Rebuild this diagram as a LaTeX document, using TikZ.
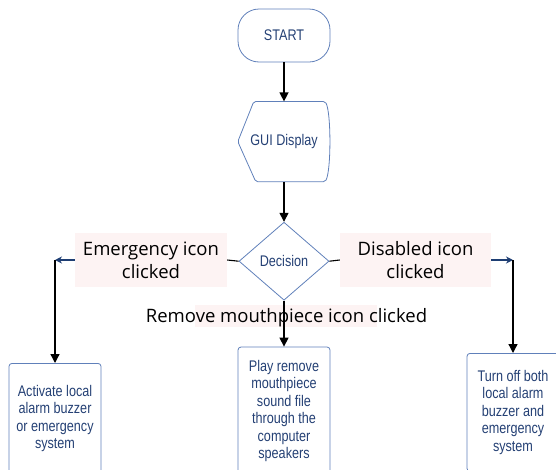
\documentclass[tikz,border=0pt]{standalone}
\usepackage{fontspec}
\newfontfamily\boxfont[FakeStretch=0.82]{Liberation Sans}
\newfontfamily\lblfont{Open Sans}
\usetikzlibrary{arrows.meta, positioning, shapes.geometric, calc}
\definecolor{boxline}{RGB}{96,128,186}
\definecolor{boxtext}{RGB}{36,64,116}
\definecolor{sidearrow}{RGB}{30,62,115}
\definecolor{lblpink}{RGB}{253,243,243}

\begin{document}
\begin{tikzpicture}[
  x=1pt, y=-1pt,
  node distance=39pt,
  term/.style={draw=boxline, line width=0.8pt, rounded corners=21pt,
               minimum width=92pt, minimum height=53pt, text=boxtext,
               font=\boxfont\fontsize{15.4}{17.5}\selectfont},
  dispbox/.style={minimum width=92pt, minimum height=80pt, text=boxtext,
                  font=\boxfont\fontsize{15.4}{17.5}\selectfont},
  shapeline/.style={draw=boxline, line width=0.8pt, rounded corners=2pt},
  decision/.style={diamond, draw=boxline, line width=0.8pt, inner sep=0pt,
                   minimum width=90pt, minimum height=78pt, text=boxtext,
                   font=\boxfont\fontsize{15.4}{17.5}\selectfont},
  procbox/.style={draw=boxline, line width=0.8pt, rounded corners=3pt,
                  minimum width=92pt, align=center, anchor=north, text=boxtext,
                  font=\boxfont\fontsize{15.4}{17.5}\selectfont},
  lbl/.style={fill=lblpink, align=center, inner sep=0pt, text=black,
              minimum width=152pt, minimum height=54pt,
              font=\lblfont\fontsize{18.5}{23}\selectfont},
  arr/.style={-{Triangle[width=9pt,length=9pt]}, line width=1.3pt},
  barr/.style={-{Stealth[width=7pt,length=7pt]}, sidearrow, line width=1.2pt},
  plain/.style={line width=1.1pt},
]
\useasboundingbox (0,0) rectangle (556,469);

% main column
\node[term] (start) at (284,35.5) {START};
\node[dispbox, below=39pt of start] (gui) {GUI Display};
\draw[shapeline] (gui.west) -- ([xshift=16pt]gui.north west)
  -- ([xshift=-5pt]gui.north east)
  .. controls ([xshift=1pt,yshift=-12pt]gui.north east) and ([xshift=1pt,yshift=12pt]gui.south east) .. ([xshift=-5pt]gui.south east)
  -- ([xshift=18pt]gui.south west) -- cycle;
\node[decision, below=40pt of gui] (dec) {Decision};

% branch labels
\node[lbl] (elabel) at (151,260) {Emergency icon\\clicked};
\node[lbl, minimum width=151pt] (dlabel) at (415.5,260) {Disabled icon\\clicked};
\fill[lblpink] (195,305) rectangle (377,327);
\node[inner sep=0pt, font=\lblfont\fontsize{18.5}{23}\selectfont] (mlabel) at (286.5,318) {Remove mouthpiece icon clicked};

% actions
\node[procbox, minimum height=110pt] (lbox) at (55,363) {Activate local\\alarm buzzer\\or emergency\\system};
\node[procbox, minimum height=128pt, below=46pt of dec] (cbox) {Play remove\\mouthpiece\\sound file\\through the\\computer\\speakers};
\node[procbox, minimum height=118pt] (rbox) at (513,353) {Turn off both\\local alarm\\buzzer and\\emergency\\system};

% connectors
\draw[arr] (start) -- (gui);
\draw[arr] (gui) -- (dec);
\draw[plain] (dec.west) -- (elabel.east);
\draw[barr] (elabel.west) -- (lbox.north |- elabel.west);
\draw[arr] (lbox.north |- elabel.west) -- (lbox.north);
\draw[plain] (dec.east) -- (dlabel.west);
\draw[barr] (dlabel.east) -- (rbox.north |- dlabel.east);
\draw[arr] (rbox.north |- dlabel.east) -- (rbox.north);
\draw[arr] (dec.south) -- (cbox.north);

\end{tikzpicture}
\end{document}
